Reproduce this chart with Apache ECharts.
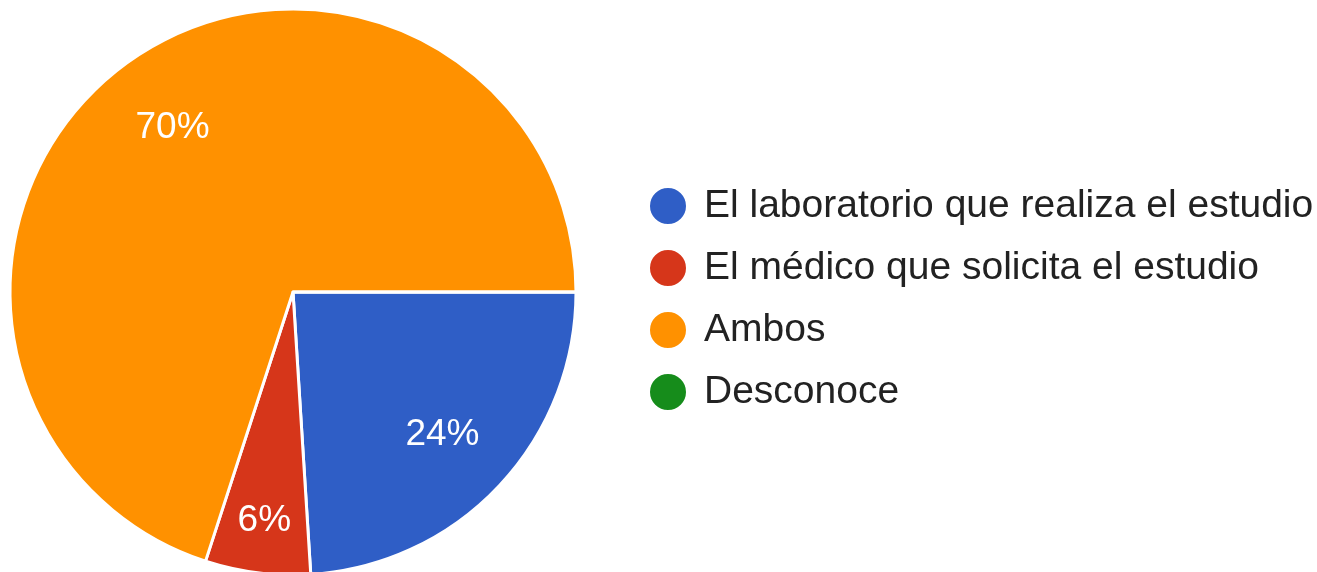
<!DOCTYPE html>
<html>
<head>
<meta charset="utf-8">
<script src="https://cdn.jsdelivr.net/npm/echarts@6/dist/echarts.min.js"></script>
<style>
  html, body { margin: 0; padding: 0; background: #fff; }
  #chart { width: 1317px; height: 572px; }
</style>
</head>
<body>
<div id="chart"></div>
<script>
const categories = [
  'El laboratorio que realiza el estudio',
  'El médico que solicita el estudio',
  'Ambos',
  'Desconoce'
]
const shares = [24, 6, 70, 0]
const colors = ['#2f5ec6', '#d6361a', '#ff9100', '#168c1b']

const chart = echarts.init(document.getElementById('chart'))

const pieData = categories.map((name, i) => ({ name, value: shares[i] }))

// labels sit further out than ECharts' inside position, so a transparent ring carries them
const labelData = categories.map((name, i) => {
  const item = { name, value: shares[i] }
  if (shares[i] === 0) item.label = { show: false }
  if (i === 1) item.label = { offset: [-3, 23] }
  return item
})

chart.setOption({
  color: colors,
  animation: false,
  legend: {
    orient: 'vertical',
    left: 643,
    top: 181,
    icon: 'circle',
    itemWidth: 38,
    itemHeight: 38,
    itemGap: 22,
    selectedMode: false,
    data: categories,
    textStyle: {
      fontFamily: 'Liberation Sans, Arial, sans-serif',
      fontSize: 39,
      lineHeight: 38,
      color: '#222',
      padding: [0, 0, 0, 12]
    }
  },
  series: [
    {
      type: 'pie',
      center: [293, 292],
      radius: [0, 283],
      startAngle: 0,
      clockwise: true,
      silent: true,
      label: { show: false },
      labelLine: { show: false },
      itemStyle: { borderColor: '#fff', borderWidth: 3 },
      data: pieData
    },
    {
      type: 'pie',
      center: [293, 294],
      radius: [121, 283],
      startAngle: 0,
      clockwise: true,
      silent: true,
      legendHoverLink: false,
      itemStyle: { color: 'rgba(0,0,0,0)' },
      label: {
        show: true,
        position: 'inside',
        formatter: '{d}%',
        color: '#fff',
        fontFamily: 'Liberation Sans, Arial, sans-serif',
        fontSize: 37
      },
      labelLine: { show: false },
      data: labelData
    }
  ]
})
</script>
</body>
</html>
